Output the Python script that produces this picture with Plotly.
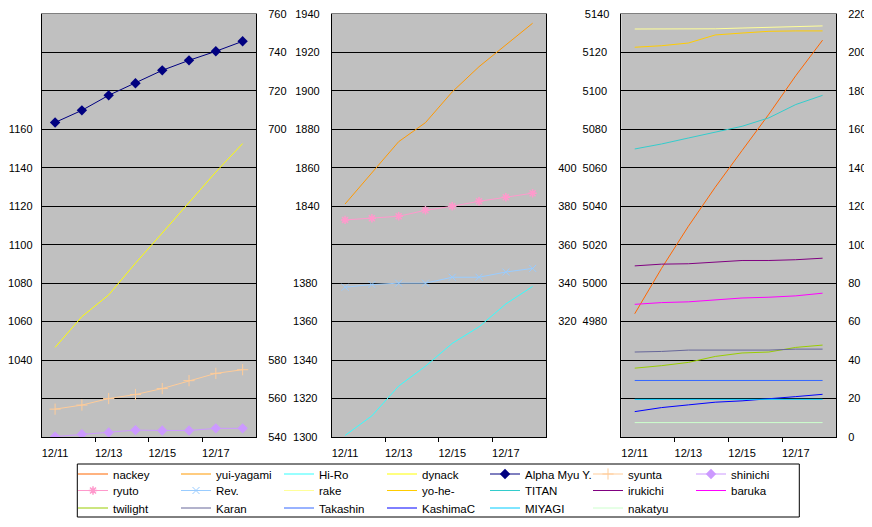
import plotly.graph_objects as go

# ---------------- data ----------------
dates = ["12/11", "12/12", "12/13", "12/14", "12/15", "12/16", "12/17", "12/18"]
date_labels = ["12/11", "12/13", "12/15", "12/17"]

# panel 1
alpha_myu = [703.6, 709.9, 717.7, 724.0, 730.7, 735.9, 740.6, 745.8]
dynack = [1046.6, 1062.6, 1073.9, 1090.4, 1106.1, 1122.0, 1137.8, 1152.6]
syunta = [554.5, 556.6, 560.0, 562.1, 565.2, 569.3, 573.1, 575.0]
shinichi = [540.2, 541.4, 542.4, 543.6, 543.4, 543.4, 544.5, 544.5]

# panel 2
yui_yagami = [1841.2, 1857.5, 1873.6, 1883.5, 1899.5, 1912.6, 1923.9, 1935.2]
hi_ro = [1300.8, 1311.0, 1326.5, 1336.8, 1348.7, 1357.3, 1369.2, 1378.3]
ryuto = [372.9, 373.8, 374.8, 377.9, 380.0, 382.6, 384.7, 386.8]
rev = [337.9, 339.3, 340.0, 340.0, 343.1, 343.1, 345.8, 347.7]

# panel 3
nackey = [4984.1, 5007.7, 5029.6, 5049.9, 5069.0, 5087.9, 5107.9, 5126.4]
rake = [212.2, 212.2, 212.2, 212.3, 212.7, 213.0, 213.4, 213.8]
yo_he = [202.7, 203.5, 204.9, 209.1, 210.1, 211.0, 211.2, 211.2]
titan = [149.8, 152.4, 155.5, 158.5, 161.6, 166.0, 172.9, 177.7]
irukichi = [89.0, 89.9, 90.1, 91.1, 91.8, 91.8, 92.2, 93.0]
baruka = [69.0, 69.9, 70.3, 71.3, 72.3, 72.7, 73.4, 74.8]
twilight = [35.8, 37.1, 38.8, 41.9, 43.7, 44.2, 46.6, 47.8]
karan = [44.2, 44.5, 45.2, 45.2, 45.2, 45.2, 45.7, 45.7]
takashin = [29.4, 29.4, 29.4, 29.4, 29.4, 29.4, 29.4, 29.4]
kashimac = [13.2, 15.3, 16.7, 18.1, 18.8, 19.8, 21.0, 22.2]
miyagi = [19.6, 19.6, 19.6, 19.6, 19.6, 19.6, 19.6, 19.6]
nakatyu = [7.5, 7.5, 7.5, 7.5, 7.5, 7.5, 7.5, 7.5]

# tick values / labels
p1_left_ticks = [1020, 1040, 1060, 1080, 1100, 1120, 1140, 1160, 1180, 1200]
p1_left_text = ["", "1040", "1060", "1080", "1100", "1120", "1140", "1160", "", ""]
p1_right_ticks = [540, 560, 580, 700, 720, 740, 760]
p2_lower_ticks = [1300, 1320, 1340, 1360, 1380, 1400, 1420, 1440, 1460, 1480, 1500]
p2_lower_text = ["1300", "1320", "1340", "1360", "1380", "", "", "", "", "", ""]
p2_upper_ticks = [1840, 1860, 1880, 1900, 1920, 1940]
p2_right_ticks = [320, 340, 360, 380, 400]
p3_left_ticks = [4940, 4960, 4980, 5000, 5020, 5040, 5060, 5080, 5100, 5120]
p3_left_text = ["", "", "4980", "5000", "5020", "5040", "5060", "5080", "5100", "5120"]
p3_left_top = [5140]
p3_right_ticks = [0, 20, 40, 60, 80, 100, 120, 140, 160, 180, 200, 220]

# ---------------- figure ----------------
FONT = "Arial, Liberation Sans, sans-serif"
fig = go.Figure()

# page body has an 8px margin: work in window coordinates, convert to figure
OFF = 8
W, H = 872 - OFF, 527 - OFF
ML, MR, MT, MB = 22, 30, 6, 90
PW = W - ML - MR
PH = H - MT - MB


def px(xw):
    return (xw - OFF - ML) / PW


def py(yw):
    return 1 - (yw - OFF - MT) / PH


def add(name, y, color, xa, ya, legend, marker=None):
    kw = dict(x=dates, y=y, name=name, mode="lines", xaxis=xa, yaxis=ya,
              line=dict(color=color, width=1), legend=legend)
    if marker:
        kw["mode"] = "lines+markers"
        kw["marker"] = marker
    fig.add_trace(go.Scatter(**kw))


L1, L2, L3 = "legend", "legend2", "legend3"
add("nackey", nackey, "#FF6600", "x3", "y6", L1)
add("yui-yagami", yui_yagami, "#FF9900", "x2", "y4", L1)
add("Hi-Ro", hi_ro, "#33FFFF", "x2", "y3", L1)
add("dynack", dynack, "#FFFF00", "x", "y", L1)
add("Alpha Myu Y.", alpha_myu, "#000080", "x", "y2", L1,
    dict(symbol="diamond", size=8, color="#000080"))
add("syunta", syunta, "#FFCC99", "x", "y2", L1,
    dict(symbol="cross-thin-open", size=8, color="#FFCC99", line=dict(width=1, color="#FFCC99")))
add("shinichi", shinichi, "#CC99FF", "x", "y2", L1,
    dict(symbol="diamond", size=8, color="#CC99FF"))
add("ryuto", ryuto, "#FF99CC", "x2", "y5", L2,
    dict(symbol="asterisk-open", size=7, color="#FF99CC", line=dict(width=1.5, color="#FF99CC")))
add("Rev.", rev, "#99CCFF", "x2", "y5", L2,
    dict(symbol="x-thin-open", size=7, color="#99CCFF", line=dict(width=1, color="#99CCFF")))
add("rake", rake, "#FFFF99", "x3", "y7", L2)
add("yo-he-", yo_he, "#FFCC00", "x3", "y7", L2)
add("TITAN", titan, "#33CCCC", "x3", "y7", L2)
add("irukichi", irukichi, "#800080", "x3", "y7", L2)
add("baruka", baruka, "#FF00FF", "x3", "y7", L2)
add("twilight", twilight, "#99CC00", "x3", "y7", L3)
add("Karan", karan, "#666699", "x3", "y7", L3)
add("Takashin", takashin, "#3366FF", "x3", "y7", L3)
add("KashimaC", kashimac, "#0000FF", "x3", "y7", L3)
add("MIYAGI", miyagi, "#00CCFF", "x3", "y7", L3)
add("nakatyu", nakatyu, "#CCFFCC", "x3", "y7", L3)

# empty helper traces so that the decoration axes get drawn
for xa, ya in [("x4", "y"), ("x5", "y3"), ("x6", "y6"),
               ("x7", "y"), ("x8", "y3"), ("x9", "y6"), ("x3", "y8")]:
    fig.add_trace(go.Scatter(x=[], y=[], xaxis=xa, yaxis=ya, showlegend=False,
                             hoverinfo="skip", mode="lines"))

doms = [[px(41.7), px(256)], [px(331.7), px(546)], [px(621.3), px(836)]]
tickfont = dict(family=FONT, size=11, color="black")
legfont = dict(family=FONT, size=11.5, color="black")


def leg(row_center_y):
    return dict(orientation="h", x=px(73), y=py(row_center_y - 15),
                xanchor="left", yanchor="top", bgcolor="rgba(0,0,0,0)",
                borderwidth=0, entrywidth=58, itemwidth=30,
                tracegroupgap=0, traceorder="normal", font=legfont)


lay = dict(
    width=W, height=H,
    margin=dict(l=ML, r=MR, t=MT, b=MB, autoexpand=False),
    paper_bgcolor="white", plot_bgcolor="#C0C0C0",
    font=dict(family=FONT, size=11.5, color="black"),
    showlegend=True,
    legend=leg(474.5), legend2=leg(491), legend3=leg(508.5),
    shapes=[dict(type="rect", xref="paper", yref="paper",
                 x0=px(77.3), x1=px(799.3), y0=py(517), y1=py(464),
                 line=dict(color="black", width=1), fillcolor="white", layer="below")],
)

xranges = [-0.5, 7.5]
main_x = ["xaxis", "xaxis2", "xaxis3"]
tick_x = ["xaxis4", "xaxis5", "xaxis6"]
top_x = ["xaxis7", "xaxis8", "xaxis9"]
left_y = ["y", "y3", "y6"]
for i in range(3):
    lay[main_x[i]] = dict(domain=doms[i], anchor=left_y[i], type="category",
                          range=xranges, tickvals=date_labels, ticktext=date_labels,
                          ticks="", showgrid=False, zeroline=False,
                          showline=True, linecolor="black", linewidth=1,
                          tickfont=tickfont, ticklabelstandoff=6)
    xi = "x" + ("" if i == 0 else str(i + 1))
    lay[tick_x[i]] = dict(domain=doms[i], anchor=left_y[i], overlaying=xi,
                          range=xranges, tickvals=[1.5, 3.5, 5.5], ticks="outside",
                          ticklen=4, tickcolor="black", tickwidth=1,
                          showticklabels=False, showgrid=False, zeroline=False,
                          showline=False)
    lay[top_x[i]] = dict(domain=doms[i], anchor=left_y[i], overlaying=xi, side="top",
                         range=xranges, showticklabels=False, ticks="", showgrid=False,
                         zeroline=False, showline=True, linecolor="#808080", linewidth=1)

grid = dict(showgrid=True, gridcolor="black", gridwidth=1, zeroline=False)


def left(standoff):
    return dict(showline=True, linecolor="black", linewidth=1, ticks="",
                tickfont=tickfont, ticklabelstandoff=standoff, side="left",
                ticklabeloverflow="allow")


common_right = dict(showline=True, linecolor="black", linewidth=1, ticks="",
                    tickfont=tickfont, ticklabelstandoff=9, side="right",
                    showgrid=False, zeroline=False, ticklabeloverflow="allow")


def label_only(standoff):
    return dict(showgrid=False, zeroline=False, showline=False, ticks="",
                tickfont=tickfont, ticklabelstandoff=standoff, side="left",
                ticklabeloverflow="allow")


# panel 1
lay["yaxis"] = dict(domain=[0, 1], anchor="x", range=[1000, 1220],
                    tickvals=p1_left_ticks, ticktext=p1_left_text, **grid, **left(6))
lay["yaxis2"] = dict(anchor="x", overlaying="y", range=[540, 760],
                     tickvals=p1_right_ticks, **common_right)
# panel 2
lay["yaxis3"] = dict(domain=[0, 1], anchor="x2", range=[1300, 1520],
                     tickvals=p2_lower_ticks, ticktext=p2_lower_text, **grid, **left(11))
lay["yaxis4"] = dict(anchor="x2", overlaying="y3", range=[1720, 1940],
                     tickvals=p2_upper_ticks, **label_only(11))
lay["yaxis5"] = dict(anchor="x2", overlaying="y3", range=[260, 480],
                     tickvals=p2_right_ticks, **common_right)
# panel 3
lay["yaxis6"] = dict(domain=[0, 1], anchor="x3", range=[4920, 5140],
                     tickvals=p3_left_ticks, ticktext=p3_left_text, **grid, **left(11))
lay["yaxis7"] = dict(anchor="x3", overlaying="y6", range=[0, 220],
                     tickvals=p3_right_ticks, **common_right)
lay["yaxis8"] = dict(anchor="x3", overlaying="y6", range=[4920, 5140],
                     tickvals=p3_left_top, **label_only(11))

fig.update_layout(**lay)
fig.write_html("out.html")
